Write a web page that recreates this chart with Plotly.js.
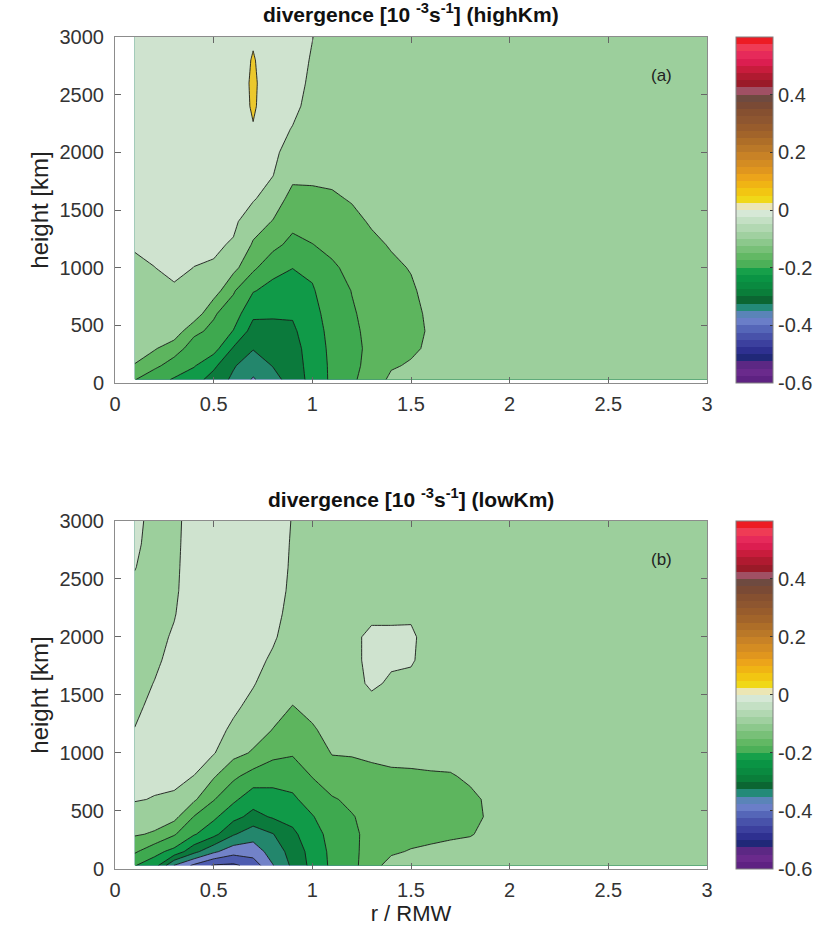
<!DOCTYPE html>
<html><head><meta charset="utf-8">
<script src="https://cdn.plot.ly/plotly-3.0.1.min.js"></script>
<style>html,body{margin:0;padding:0;background:#fff}</style>
</head><body><div id="chart" style="width:828px;height:941px"></div>
<script>
// r / RMW grid (columns) and height grid (rows, m)
const radius = [0.1,0.2,0.3,0.4,0.5,0.6,0.7,0.8,0.9,1.0,1.1,1.2,1.3,1.4,1.5,1.6,1.7,1.8,1.9,2.0,3.0];
const height = [30,150,300,450,600,800,1000,1200,1400,1600,1800,2000,2200,2400,2600,2800,3000];

// divergence [1e-3 s-1], case highKm (rows = height, columns = radius)
const divHighKm = [
 [-0.148,-0.18,-0.205,-0.23,-0.27,-0.31,-0.355,-0.32,-0.275,-0.235,-0.19,-0.158,-0.128,-0.09,-0.08,-0.075,-0.075,-0.075,-0.075,-0.075,-0.075],
 [-0.102,-0.14,-0.17,-0.196,-0.24,-0.295,-0.33,-0.298,-0.272,-0.232,-0.19,-0.158,-0.14,-0.105,-0.095,-0.08,-0.075,-0.075,-0.075,-0.075,-0.075],
 [-0.085,-0.095,-0.13,-0.17,-0.18,-0.255,-0.297,-0.28,-0.268,-0.228,-0.188,-0.157,-0.144,-0.115,-0.108,-0.092,-0.076,-0.075,-0.075,-0.075,-0.075],
 [-0.08,-0.08,-0.068,-0.14,-0.16,-0.202,-0.27,-0.262,-0.258,-0.222,-0.185,-0.156,-0.142,-0.118,-0.112,-0.095,-0.077,-0.075,-0.075,-0.075,-0.075],
 [-0.075,-0.072,-0.062,-0.067,-0.145,-0.175,-0.24,-0.245,-0.245,-0.215,-0.18,-0.154,-0.138,-0.117,-0.11,-0.093,-0.077,-0.075,-0.075,-0.075,-0.075],
 [-0.07,-0.065,-0.056,-0.06,-0.075,-0.145,-0.197,-0.215,-0.225,-0.205,-0.17,-0.149,-0.13,-0.113,-0.105,-0.088,-0.076,-0.075,-0.075,-0.075,-0.075],
 [-0.06,-0.0505,-0.04,-0.0505,-0.055,-0.085,-0.14,-0.185,-0.199,-0.19,-0.157,-0.138,-0.12,-0.107,-0.098,-0.083,-0.075,-0.075,-0.075,-0.075,-0.075],
 [-0.045,-0.04,-0.035,-0.04,-0.042,-0.055,-0.105,-0.135,-0.165,-0.151,-0.138,-0.125,-0.108,-0.097,-0.09,-0.08,-0.075,-0.075,-0.075,-0.075,-0.075],
 [-0.035,-0.035,-0.03,-0.035,-0.035,-0.04,-0.08,-0.102,-0.135,-0.13,-0.12,-0.11,-0.096,-0.088,-0.085,-0.077,-0.075,-0.075,-0.075,-0.075,-0.075],
 [-0.03,-0.03,-0.03,-0.03,-0.03,-0.035,-0.045,-0.075,-0.115,-0.11,-0.105,-0.097,-0.088,-0.082,-0.08,-0.075,-0.075,-0.075,-0.075,-0.075,-0.075],
 [-0.03,-0.03,-0.03,-0.03,-0.03,-0.03,-0.035,-0.049,-0.09,-0.092,-0.092,-0.085,-0.08,-0.077,-0.077,-0.075,-0.075,-0.075,-0.075,-0.075,-0.075],
 [-0.03,-0.03,-0.03,-0.03,-0.03,-0.03,-0.03,-0.04,-0.07,-0.08,-0.08,-0.078,-0.075,-0.075,-0.075,-0.075,-0.075,-0.075,-0.075,-0.075,-0.075],
 [-0.03,-0.03,-0.03,-0.03,-0.03,-0.03,-0.003,-0.035,-0.052,-0.07,-0.075,-0.075,-0.075,-0.075,-0.075,-0.075,-0.075,-0.075,-0.075,-0.075,-0.075],
 [-0.03,-0.03,-0.03,-0.03,-0.03,-0.03,0.006,-0.03,-0.04,-0.064,-0.075,-0.075,-0.075,-0.075,-0.075,-0.075,-0.075,-0.075,-0.075,-0.075,-0.075],
 [-0.03,-0.03,-0.03,-0.03,-0.03,-0.03,0.008,-0.03,-0.035,-0.058,-0.075,-0.075,-0.075,-0.075,-0.075,-0.075,-0.075,-0.075,-0.075,-0.075,-0.075],
 [-0.03,-0.03,-0.03,-0.03,-0.03,-0.03,0.004,-0.03,-0.03,-0.054,-0.075,-0.075,-0.075,-0.075,-0.075,-0.075,-0.075,-0.075,-0.075,-0.075,-0.075],
 [-0.03,-0.03,-0.03,-0.03,-0.03,-0.03,-0.006,-0.03,-0.03,-0.049,-0.075,-0.075,-0.075,-0.075,-0.075,-0.075,-0.075,-0.075,-0.075,-0.075,-0.075]
];

// divergence [1e-3 s-1], case lowKm
const divLowKm = [
 [-0.198,-0.225,-0.352,-0.41,-0.455,-0.46,-0.43,-0.352,-0.29,-0.235,-0.19,-0.17,-0.11,-0.09,-0.085,-0.082,-0.08,-0.078,-0.076,-0.075,-0.075],
 [-0.143,-0.185,-0.215,-0.285,-0.34,-0.38,-0.375,-0.33,-0.28,-0.232,-0.188,-0.165,-0.125,-0.104,-0.098,-0.094,-0.09,-0.088,-0.08,-0.075,-0.075],
 [-0.095,-0.105,-0.145,-0.195,-0.235,-0.295,-0.33,-0.302,-0.26,-0.222,-0.182,-0.16,-0.135,-0.115,-0.11,-0.108,-0.105,-0.102,-0.092,-0.075,-0.075],
 [-0.07,-0.08,-0.085,-0.152,-0.19,-0.235,-0.265,-0.245,-0.235,-0.203,-0.172,-0.153,-0.135,-0.118,-0.113,-0.112,-0.11,-0.106,-0.097,-0.075,-0.075],
 [-0.047,-0.052,-0.055,-0.092,-0.147,-0.19,-0.23,-0.215,-0.208,-0.18,-0.155,-0.14,-0.128,-0.115,-0.112,-0.11,-0.108,-0.105,-0.096,-0.075,-0.075],
 [-0.04,-0.04,-0.042,-0.0505,-0.095,-0.14,-0.17,-0.185,-0.18,-0.148,-0.12,-0.115,-0.11,-0.105,-0.104,-0.103,-0.102,-0.096,-0.09,-0.075,-0.075],
 [-0.043,-0.035,-0.03,-0.035,-0.047,-0.085,-0.105,-0.135,-0.145,-0.125,-0.098,-0.097,-0.093,-0.092,-0.092,-0.09,-0.09,-0.088,-0.085,-0.075,-0.075],
 [-0.049,-0.035,-0.03,-0.03,-0.035,-0.058,-0.08,-0.101,-0.12,-0.104,-0.088,-0.085,-0.08,-0.082,-0.082,-0.082,-0.082,-0.08,-0.078,-0.075,-0.075],
 [-0.058,-0.04,-0.032,-0.03,-0.03,-0.042,-0.062,-0.085,-0.101,-0.09,-0.08,-0.077,-0.07,-0.07,-0.072,-0.076,-0.078,-0.078,-0.075,-0.075,-0.075],
 [-0.062,-0.049,-0.035,-0.03,-0.03,-0.035,-0.047,-0.07,-0.085,-0.082,-0.075,-0.07,-0.04,-0.058,-0.062,-0.072,-0.075,-0.075,-0.075,-0.075,-0.075],
 [-0.063,-0.056,-0.04,-0.03,-0.03,-0.03,-0.038,-0.056,-0.075,-0.077,-0.075,-0.06,-0.04,-0.042,-0.045,-0.07,-0.075,-0.075,-0.075,-0.075,-0.075],
 [-0.062,-0.06,-0.046,-0.03,-0.03,-0.03,-0.033,-0.045,-0.068,-0.075,-0.075,-0.055,-0.045,-0.042,-0.042,-0.07,-0.075,-0.075,-0.075,-0.075,-0.075],
 [-0.06,-0.06,-0.052,-0.03,-0.03,-0.03,-0.03,-0.038,-0.063,-0.075,-0.075,-0.06,-0.055,-0.058,-0.057,-0.07,-0.075,-0.075,-0.075,-0.075,-0.075],
 [-0.056,-0.062,-0.056,-0.03,-0.03,-0.03,-0.03,-0.034,-0.058,-0.075,-0.075,-0.068,-0.065,-0.068,-0.068,-0.075,-0.075,-0.075,-0.075,-0.075,-0.075],
 [-0.049,-0.062,-0.058,-0.03,-0.03,-0.03,-0.03,-0.03,-0.056,-0.075,-0.075,-0.072,-0.072,-0.075,-0.075,-0.075,-0.075,-0.075,-0.075,-0.075,-0.075],
 [-0.044,-0.062,-0.06,-0.03,-0.03,-0.03,-0.03,-0.03,-0.054,-0.075,-0.075,-0.075,-0.075,-0.075,-0.075,-0.075,-0.075,-0.075,-0.075,-0.075,-0.075],
 [-0.04,-0.062,-0.062,-0.03,-0.03,-0.03,-0.03,-0.03,-0.052,-0.075,-0.075,-0.075,-0.075,-0.075,-0.075,-0.075,-0.075,-0.075,-0.075,-0.075,-0.075]
];

// contour levels: -0.45 ... 0 every 0.05
const levelStart = -0.45, levelEnd = 0, levelStep = 0.05;
// fill colour of each band, from below -0.45 up to above 0
const bandColors = ['#2e3a96','#4e5cb0','#7282c8','#23866c','#0b7a3c','#109a48','#3ea94f','#5db55e','#9ccf9c','#cfe3cf','#ebc82c'];

// colorbar colormap, 48 steps from -0.6 to 0.6
const cbColors = [
 '#5e2282','#6a2a8c','#5c2884','#202878','#2e3090','#3c409e','#4852aa','#5566b8','#6a7ec8','#5a84b8',
 '#238a78','#0b6632','#0a7e3a','#0a8a40','#0a9444','#16a04a','#4cb058','#62b864','#78c078','#8cc88c',
 '#a0d0a0','#b2d8b2','#c4e0c4','#d6e8d6','#ece6b4','#f0d818','#f2c612','#f0b414','#eca41a','#e0961e',
 '#d48c22','#c88226','#ba7828','#ae6e28','#a2642a','#985c2c','#8e5630','#865030','#7a4a35','#6e4a40',
 '#a05064','#9a1a28','#b01a30','#c81c3c','#dc1e50','#e62a5a','#ef3b55','#ed1c24'];
const cbTickVals = [-0.6,-0.4,-0.2,0,0.2,0.4];
const cbTickText = ['-0.6','-0.4','-0.2','0','0.2','0.4'];
const xTickVals = [0,0.5,1,1.5,2,2.5,3];
const xTickText = ['0','0.5','1','1.5','2','2.5','3'];
const yTickVals = [0,500,1000,1500,2000,2500,3000];

// stepwise colorscale: each band colour centred on k/n
const fillScale = [];
const nb = bandColors.length - 1;
bandColors.forEach((c,k)=>{
  const lo = k === 0 ? 0 : (2*k-1)/(2*nb);
  const hi = k === nb ? 1 : (2*k+1)/(2*nb);
  fillScale.push([lo, c]);
  fillScale.push([hi, c]);
});
const cbScale = [];
cbColors.forEach((c,i)=>{ cbScale.push([i/cbColors.length,c]); cbScale.push([(i+1)/cbColors.length,c]); });

const FONT = 'Liberation Sans, Arial, sans-serif';
const tickFont = {family: FONT, size: 20, color: '#333'};

function contourTrace(z, xa, ya){
  return {type:'contour', x: radius, y: height, z: z, xaxis: xa, yaxis: ya,
    autocontour:false, contours:{start:levelStart, end:levelEnd, size:levelStep, coloring:'fill', showlines:true},
    line:{color:'#1a1a1a', width:0.9, smoothing:0}, colorscale: fillScale, showscale:false, hoverinfo:'skip'};
}
function cbTrace(xa, ya, y, len){
  return {type:'scatter', mode:'markers', x:[null], y:[null], xaxis:xa, yaxis:ya, showlegend:false, hoverinfo:'skip',
    marker:{color:[0], colorscale: cbScale, cmin:-0.6, cmax:0.6, showscale:true,
      colorbar:{x:1.0487, xanchor:'left', xpad:0, ypad:0, y:y, yanchor:'top', len:len, lenmode:'fraction',
        thickness:37, thicknessmode:'pixels', outlinecolor:'#808080', outlinewidth:1,
        tickmode:'array', tickvals: cbTickVals, ticktext: cbTickText, ticks:'inside', ticklen:3, tickcolor:'#333',
        tickfont: tickFont}}};
}

const data = [
  contourTrace(divHighKm,'x','y'),
  contourTrace(divLowKm,'x2','y2'),
  cbTrace('x','y',1.0,0.4159),
  cbTrace('x2','y2',0.4183,0.4183)
];

function xAxis(anchor, title){
  const a = {domain:[0,1], anchor:anchor, range:[0,3], showgrid:false, zeroline:false, showline:true, linecolor:'#8c8c8c', linewidth:1,
    mirror:'ticks', ticks:'inside', ticklen:6, tickcolor:'#666', tickmode:'array', tickvals:xTickVals, ticktext:xTickText,
    tickfont: tickFont, ticklabelstandoff: 3};
  if(title) a.title = {text:title, font:{family:FONT, size:22, color:'#222'}, standoff: 4};
  return a;
}
function yAxis(anchor, domain){
  return {domain:domain, anchor:anchor, range:[0,3000], showgrid:false, zeroline:false, showline:true, linecolor:'#8c8c8c', linewidth:1,
    mirror:'ticks', ticks:'inside', ticklen:6, tickcolor:'#666', tickmode:'array', tickvals:yTickVals,
    tickfont: tickFont, ticklabelstandoff: 6,
    title:{text:'height [km]', font:{family:FONT, size:24, color:'#222'}, standoff: 4}};
}

const layout = {
  width:828, height:941, margin:{l:115, r:117, t:37, b:72},
  paper_bgcolor:'#fff', plot_bgcolor:'#fff', showlegend:false,
  xaxis: xAxis('y', null),
  yaxis: yAxis('x', [0.5841, 1]),
  xaxis2: xAxis('y2', 'r / RMW'),
  yaxis2: yAxis('x2', [0, 0.4183]),
  annotations: [
    {xref:'paper', yref:'paper', x:0.5, y:1.029, xanchor:'center', yanchor:'middle', showarrow:false,
     text:'<b>divergence [10 <sup>-3</sup>s<sup>-1</sup>] (highKm)</b>', font:{family:FONT, size:21, color:'#111'}},
    {xref:'paper', yref:'paper', x:0.5, y:0.4465, xanchor:'center', yanchor:'middle', showarrow:false,
     text:'<b>divergence [10 <sup>-3</sup>s<sup>-1</sup>] (lowKm)</b>', font:{family:FONT, size:21, color:'#111'}},
    {xref:'x', yref:'y', x:2.77, y:2670, showarrow:false, text:'(a)', font:{family:FONT, size:17, color:'#222'}},
    {xref:'x2', yref:'y2', x:2.77, y:2670, showarrow:false, text:'(b)', font:{family:FONT, size:17, color:'#222'}}
  ]
};

Plotly.newPlot('chart', data, layout, {displayModeBar:false, staticPlot:true});
</script></body></html>
